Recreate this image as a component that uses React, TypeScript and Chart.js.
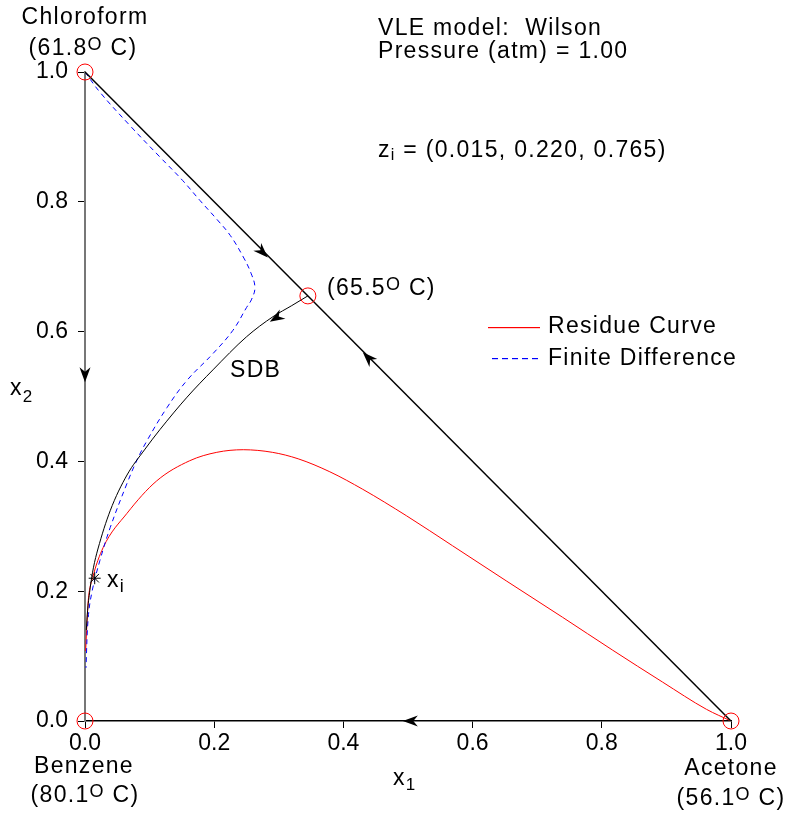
import React, { useEffect, useRef } from "react";
import { Chart, registerables } from "chart.js";
Chart.register(...registerables);

// ---- data ----
const residueX = [0.001, 0.003, 0.005, 0.012, 0.028, 0.065, 0.111, 0.162, 0.204, 0.245, 0.29, 0.33, 0.379, 0.43, 0.498, 0.569, 0.652, 0.739, 0.817, 0.894, 0.962, 1.0];
const residueY = [0.108, 0.15, 0.185, 0.221, 0.267, 0.32, 0.37, 0.401, 0.414, 0.418, 0.414, 0.404, 0.384, 0.357, 0.316, 0.27, 0.216, 0.16, 0.109, 0.06, 0.018, 0.0];

const finiteX = [0.0, 0.023, 0.07, 0.116, 0.151, 0.178, 0.205, 0.225, 0.245, 0.257, 0.263, 0.258, 0.25, 0.229, 0.198, 0.158, 0.127, 0.096, 0.08, 0.065, 0.039, 0.023, 0.011, 0.005, 0.0015];
const finiteY = [1.0, 0.969, 0.917, 0.869, 0.833, 0.802, 0.772, 0.748, 0.715, 0.69, 0.668, 0.65, 0.637, 0.602, 0.566, 0.525, 0.483, 0.432, 0.401, 0.366, 0.298, 0.247, 0.2, 0.159, 0.082];

const sdbX = [0.345, 0.32, 0.291, 0.25, 0.198, 0.158, 0.116, 0.093, 0.065, 0.039, 0.02, 0.013, 0.008, 0.004, 0.002];
const sdbY = [0.655, 0.64, 0.623, 0.592, 0.541, 0.499, 0.449, 0.419, 0.379, 0.324, 0.265, 0.236, 0.205, 0.17, 0.14];

const edgeX = [0, 1];
const edgeY = [1, 0];

const nodeX = [0, 0, 1, 0.345];
const nodeY = [1, 0, 0, 0.655];

const feedX = [0.015];
const feedY = [0.22];

const arrowX = [0.283, 0.43, 0, 0.492, 0.286];
const arrowY = [0.714, 0.568, 0.522, 0, 0.615];
const arrowDX = [1, -1, 0, -1, -1];
const arrowDY = [-1, 1, -1, 0, -0.6];

const tickValues = [0, 0.2, 0.4, 0.6, 0.8, 1.0];

const pts = (xs: number[], ys: number[]) => xs.map((x, i) => ({ x, y: ys[i] }));

const FONT = '"Liberation Sans", Arial, sans-serif';

type Seg = { t: string; size: number; dy?: number };

function richText(ctx: CanvasRenderingContext2D, segs: Seg[], x: number, y: number, align: "left" | "center") {
  ctx.save();
  ctx.fillStyle = "#000";
  ctx.textBaseline = "alphabetic";
  ctx.textAlign = "left";
  (ctx as any).letterSpacing = "1.3px";
  let total = 0;
  const widths = segs.map((s) => {
    ctx.font = `${s.size}px ${FONT}`;
    const w = ctx.measureText(s.t).width;
    total += w;
    return w;
  });
  let cx = align === "center" ? x - total / 2 : x;
  segs.forEach((s, i) => {
    ctx.font = `${s.size}px ${FONT}`;
    ctx.fillText(s.t, cx, y + (s.dy || 0));
    cx += widths[i];
  });
  ctx.restore();
}

const tempLabel = (a: string): Seg[] => [
  { t: "(" + a, size: 23 },
  { t: "O", size: 18, dy: -5 },
  { t: " C)", size: 23 },
];

function drawArrow(ctx: CanvasRenderingContext2D, tx: number, ty: number, ux: number, uy: number) {
  const L = 15, W = 5.5, N = 4.5;
  const bx = tx - ux * L, by = ty - uy * L;
  const px = -uy, py = ux;
  ctx.beginPath();
  ctx.moveTo(tx, ty);
  ctx.lineTo(bx + px * W, by + py * W);
  ctx.lineTo(tx - ux * (L - N), ty - uy * (L - N));
  ctx.lineTo(bx - px * W, by - py * W);
  ctx.closePath();
  ctx.fill();
}

const annotPlugin = {
  id: "annot",
  afterDraw(chart: any) {
    const ctx: CanvasRenderingContext2D = chart.ctx;
    const xs = chart.scales.x, ys = chart.scales.y;
    // arrows
    ctx.save();
    ctx.fillStyle = "#000";
    arrowX.forEach((ax, i) => {
      const tx = xs.getPixelForValue(ax), ty = ys.getPixelForValue(arrowY[i]);
      const ex = xs.getPixelForValue(ax + arrowDX[i] * 0.01), ey = ys.getPixelForValue(arrowY[i] + arrowDY[i] * 0.01);
      const dx = ex - tx, dy = ey - ty;
      const len = Math.hypot(dx, dy);
      drawArrow(ctx, tx, ty, dx / len, dy / len);
    });
    ctx.restore();

    // legend lines
    ctx.save();
    ctx.fillStyle = "#ff0000";
    ctx.fillRect(488, 327, 52, 1.2);
    ctx.fillStyle = "#0000ff";
    for (let x = 492; x < 540; x += 10) ctx.fillRect(x, 358, 6, 1.2);
    ctx.restore();

    // texts
    richText(ctx, [{ t: "Chloroform", size: 23 }], 85, 24, "center");
    richText(ctx, tempLabel("61.8"), 83, 55, "center");
    richText(ctx, [{ t: "Benzene", size: 23 }], 84, 773, "center");
    richText(ctx, tempLabel("80.1"), 85, 802, "center");
    richText(ctx, [{ t: "Acetone", size: 23 }], 731, 775, "center");
    richText(ctx, tempLabel("56.1"), 731, 805, "center");
    richText(ctx, tempLabel("65.5"), 327, 295, "left");
    richText(ctx, [{ t: "SDB", size: 23 }], 230, 377, "left");
    richText(ctx, [{ t: "x", size: 23 }, { t: "i", size: 18, dy: 5 }], 107, 587, "left");
    richText(ctx, [{ t: "VLE model:  Wilson", size: 23 }], 378, 35, "left");
    richText(ctx, [{ t: "Pressure (atm) = 1.00", size: 23 }], 378, 58, "left");
    richText(ctx, [{ t: "z", size: 23 }, { t: "i", size: 16, dy: 3 }, { t: " = (0.015, 0.220, 0.765)", size: 23 }], 378, 157, "left");
    richText(ctx, [{ t: "x", size: 23 }, { t: "1", size: 17, dy: 5 }], 393, 785, "left");
    richText(ctx, [{ t: "x", size: 23 }, { t: "2", size: 17, dy: 7 }], 10, 395, "left");
    richText(ctx, [{ t: "Residue Curve", size: 23 }], 548, 333, "left");
    richText(ctx, [{ t: "Finite Difference", size: 23 }], 548, 365, "left");
  },
};

export default function App() {
  const ref = useRef<HTMLCanvasElement | null>(null);
  useEffect(() => {
    if (!ref.current) return;
    const chart = new Chart(ref.current, {
      type: "scatter",
      data: {
        datasets: [
          {
            label: "Nodes",
            data: pts(nodeX, nodeY),
            showLine: false,
            pointStyle: "circle",
            pointRadius: 8,
            pointBorderColor: "#ff0000",
            pointBackgroundColor: "rgba(0,0,0,0)",
            pointBorderWidth: 1,
            clip: false as any,
          },
          {
            label: "Feed",
            data: pts(feedX, feedY),
            showLine: false,
            pointStyle: "star",
            pointRadius: 6,
            pointBorderColor: "#000",
            pointBorderWidth: 1,
          },
          {
            label: "Edge",
            data: pts(edgeX, edgeY),
            showLine: true,
            borderColor: "#000",
            borderWidth: 1.5,
            pointRadius: 0,
          },
          {
            label: "SDB",
            data: pts(sdbX, sdbY),
            showLine: true,
            borderColor: "#000",
            borderWidth: 1,
            pointRadius: 0,
            cubicInterpolationMode: "monotone",
          },
          {
            label: "Finite Difference",
            data: pts(finiteX, finiteY),
            showLine: true,
            borderColor: "#0000ff",
            borderWidth: 1,
            borderDash: [5, 4],
            pointRadius: 0,
            tension: 0.4,
          },
          {
            label: "Residue Curve",
            data: pts(residueX, residueY),
            showLine: true,
            borderColor: "#ff0000",
            borderWidth: 1,
            pointRadius: 0,
            cubicInterpolationMode: "monotone",
          },
        ],
      },
      options: {
        responsive: false,
        animation: false,
        layout: { padding: { top: 72, right: 56, left: 0, bottom: 0 } },
        plugins: { legend: { display: false }, tooltip: { enabled: false } },
        scales: {
          x: {
            type: "linear",
            min: 0,
            max: 1,
            afterFit: (s: any) => { s.height = 93; },
            afterBuildTicks: (s: any) => { s.ticks = tickValues.map((v) => ({ value: v })); },
            ticks: {
              callback: (v: any) => Number(v).toFixed(1),
              color: "#000",
              font: { family: FONT, size: 23 },
              padding: 2,
              maxRotation: 0,
            },
            grid: { drawOnChartArea: false, drawTicks: true, tickLength: 7, color: "#000" },
            border: { display: true, color: "#000", width: 1.5 },
          },
          y: {
            type: "linear",
            min: 0,
            max: 1,
            afterFit: (s: any) => { s.width = 85; },
            afterBuildTicks: (s: any) => { s.ticks = tickValues.map((v) => ({ value: v })); },
            ticks: {
              callback: (v: any) => Number(v).toFixed(1),
              color: "#000",
              font: { family: FONT, size: 23 },
              padding: 10,
            },
            grid: { drawOnChartArea: false, drawTicks: true, tickLength: 7, color: "#000" },
            border: { display: true, color: "#777", width: 2 },
          },
        },
      },
      plugins: [annotPlugin],
    });
    return () => chart.destroy();
  }, []);
  return (
    <div style={{ position: "absolute", left: 0, top: 0, width: 787, height: 814, background: "#fff" }}>
      <canvas ref={ref} width={787} height={814} />
    </div>
  );
}
